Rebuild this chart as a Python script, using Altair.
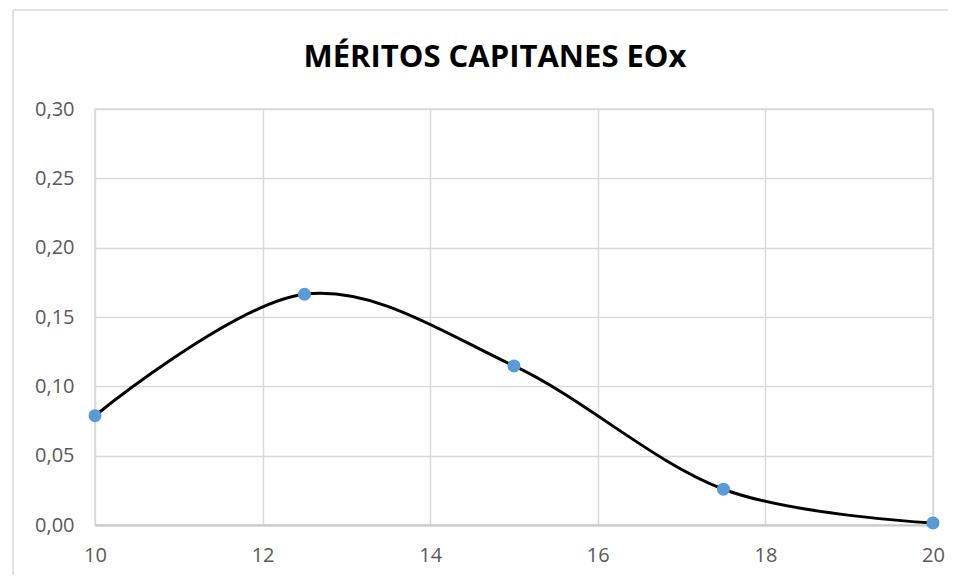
import altair as alt
import pandas as pd

x_vals = [10, 12.5, 15, 17.5, 20]
y_vals = [0.0788, 0.1664, 0.1147, 0.0258, 0.0015]
title_text = "MÉRITOS CAPITANES EOx"

df = pd.DataFrame({"x": x_vals, "y": y_vals})

FONT = "Open Sans"
GRID = "#d9d9d9"
LABEL = "#595959"

xscale = alt.Scale(domain=[10, 20], nice=False, zero=False)
yscale = alt.Scale(domain=[0, 0.30], nice=False)

base = alt.Chart(df)
one = alt.Chart(pd.DataFrame({"a": [0]}))

frame_top = one.mark_rule(color="#d9d9d9", strokeWidth=1.5, clip=False).encode(
    x=alt.value(-82), x2=alt.value(900), y=alt.value(-99)
)
frame_left = one.mark_rule(color="#d9d9d9", strokeWidth=1.5, clip=False).encode(
    x=alt.value(-82), y=alt.value(-99), y2=alt.value(520)
)

title = one.mark_text(
    text=title_text, font=FONT, fontSize=31, fontWeight="bold", color="black",
    align="center", baseline="middle", clip=False
).encode(x=alt.value(400), y=alt.value(-51))

line = base.mark_line(
    color="black", strokeWidth=3, interpolate="cardinal", tension=0
).encode(
    x=alt.X("x:Q", scale=xscale,
            axis=alt.Axis(values=[10, 12, 14, 16, 18, 20], format="d", title=None,
                          grid=True, gridColor=GRID, gridWidth=1.5,
                          domainColor="#c8c8c8", domainWidth=2, ticks=False,
                          labelFlush=False, labelOverlap=False,
                          labelColor=LABEL, labelFont=FONT, labelFontSize=20,
                          labelPadding=20)),
    y=alt.Y("y:Q", scale=yscale,
            axis=alt.Axis(values=[0, 0.05, 0.10, 0.15, 0.20, 0.25, 0.30], title=None,
                          labelExpr="replace(format(datum.value, '.2f'), '.', ',')",
                          grid=True, gridColor=GRID, gridWidth=1.5,
                          domain=False, ticks=False, labelFlush=False,
                          labelColor=LABEL, labelFont=FONT, labelFontSize=20,
                          labelPadding=21)),
)

points = base.mark_point(
    filled=True, color="#5b9bd5", size=170, opacity=1, shape="circle", clip=False
).encode(
    x=alt.X("x:Q", scale=xscale),
    y=alt.Y("y:Q", scale=yscale),
)

chart = alt.layer(frame_top, frame_left, title, line, points).properties(
    width=838,
    height=416,
    padding={"left": 87, "top": 101, "right": 15, "bottom": 50},
    autosize=alt.AutoSizeParams(type="none"),
).configure_view(stroke=GRID, strokeWidth=1.5)

chart.save("out.html", embed_options={"renderer": "svg", "actions": False})
